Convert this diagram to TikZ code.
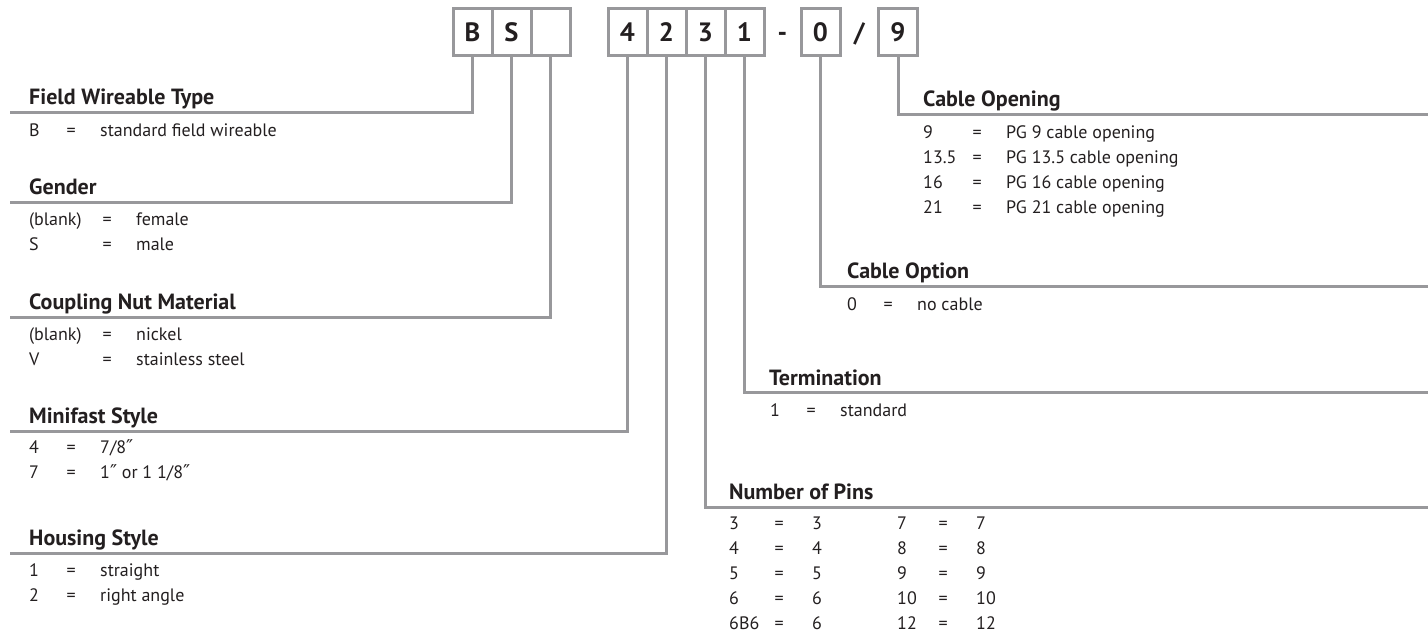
\documentclass[tikz,border=0pt]{standalone}
\usepackage{fontspec}
\setmainfont{PT Sans}
\newfontfamily\primefont{DejaVu Sans}
\usepackage{array}
\usetikzlibrary{positioning}
\definecolor{leadgray}{RGB}{152,152,155}
\definecolor{inkblack}{RGB}{35,31,32}

\begin{document}
\begin{tikzpicture}[
        x=1pt, y=-1pt,
        digit/.style={rectangle, draw=leadgray, line width=3pt, minimum width=39pt, minimum height=47pt, inner sep=0pt, outer sep=0pt, text height=18.6pt, text depth=0pt, font=\fontsize{26.5}{26}\selectfont\bfseries, text=inkblack},
        spacer/.style={rectangle, minimum width=37pt, minimum height=47pt, inner sep=0pt, outer sep=0pt, text height=18.6pt, text depth=0pt, font=\fontsize{26.5}{26}\selectfont\bfseries, text=inkblack},
        heading/.style={anchor=base west, inner sep=0pt, font=\fontsize{22}{22}\selectfont\bfseries, text=inkblack},
        entries/.style={anchor=base west, inner sep=0pt, font=\fontsize{18}{25}\selectfont, text=inkblack},
        leader/.style={draw=leadgray, line width=3pt}
    ]
    \useasboundingbox (0,0) rectangle (1428,636);

    % Code boxes
    \node[digit] (bB) at (472.5,32) {B};
    \node[digit, right=0pt of bB] (bS) {S};
    \node[digit, right=0pt of bS] (bV) {};
    \node[digit, right=38pt of bV] (b4) {4};
    \node[digit, right=0pt of b4] (b2) {2};
    \node[digit, right=0pt of b2] (b3) {3};
    \node[digit, right=0pt of b3] (b1) {1};
    \node[spacer, right=0pt of b1] (dash) {-};
    \node[digit, right=0pt of dash] (b0) {0};
    \node[spacer, right=0pt of b0, minimum width=38.5pt] (slash) {/};
    \node[digit, right=0pt of slash] (b9) {9};

    % Left column
    \node[heading] (hType) at (29,105) {Field Wireable Type};
    \node[entries] (lType) at (29,136.5) {\begin{tabular}[t]{@{}p{37.5pt}@{}p{33.5pt}@{}l@{}}
        B & = & standard field wireable\end{tabular}};
    \node[heading] (hGender) at (29,195) {Gender};
    \node[entries] (lGender) at (29,225.5) {\begin{tabular}[t]{@{}p{73.5pt}@{}p{33.5pt}@{}l@{}}
        (blank) & = & female\\ S & = & male\end{tabular}};
    \node[heading] (hNut) at (29,310) {Coupling Nut Material};
    \node[entries] (lNut) at (29,340.5) {\begin{tabular}[t]{@{}p{73.5pt}@{}p{33.5pt}@{}l@{}}
        (blank) & = & nickel\\ V & = & stainless steel\end{tabular}};
    \node[heading] (hMini) at (29,424) {Minifast Style};
    \node[entries] (lMini) at (29,453.5) {\begin{tabular}[t]{@{}p{37.5pt}@{}p{33.5pt}@{}l@{}}
        4 & = & 7/8{\primefont\fontsize{19}{25}\selectfont ″}\\ 7 & = & 1{\primefont\fontsize{19}{25}\selectfont ″} or 1 1/8{\primefont\fontsize{19}{25}\selectfont ″}\end{tabular}};
    \node[heading] (hHousing) at (29,545) {Housing Style};
    \node[entries] (lHousing) at (29,576.5) {\begin{tabular}[t]{@{}p{37.5pt}@{}p{33.5pt}@{}l@{}}
        1 & = & straight\\ 2 & = & right angle\end{tabular}};

    % Right column
    \node[heading] (hOpening) at (923,107) {Cable Opening};
    \node[entries] (lOpening) at (923,138.5) {\begin{tabular}[t]{@{}p{49.5pt}@{}p{33.5pt}@{}l@{}}
        9 & = & PG 9 cable opening\\ 13.5 & = & PG 13.5 cable opening\\
        16 & = & PG 16 cable opening\\ 21 & = & PG 21 cable opening\end{tabular}};
    \node[heading] (hOption) at (847,279) {Cable Option};
    \node[entries] (lOption) at (847,310.5) {\begin{tabular}[t]{@{}p{36.5pt}@{}p{33.5pt}@{}l@{}}
        0 & = & no cable\end{tabular}};
    \node[heading] (hTerm) at (769,385) {Termination};
    \node[entries] (lTerm) at (770,416.5) {\begin{tabular}[t]{@{}p{36.5pt}@{}p{33.5pt}@{}l@{}}
        1 & = & standard\end{tabular}};
    \node[heading] (hPins) at (729,499) {Number of Pins};
    \node[entries] (lPinsA) at (729,529.5) {\begin{tabular}[t]{@{}p{45.5pt}@{}p{37.5pt}@{}l@{}}
        3 & = & 3\\ 4 & = & 4\\ 5 & = & 5\\ 6 & = & 6\\ 6B6 & = & 6\end{tabular}};
    \node[entries] (lPinsB) at (897,529.5) {\begin{tabular}[t]{@{}p{41.5pt}@{}p{37.5pt}@{}l@{}}
        7 & = & 7\\ 8 & = & 8\\ 9 & = & 9\\ 10 & = & 10\\ 12 & = & 12\end{tabular}};

    % Line ends
    \coordinate (eType) at (10,113);
    \coordinate (eGender) at (10,203);
    \coordinate (eNut) at (10,318);
    \coordinate (eMini) at (10,431);
    \coordinate (eHousing) at (10,553);
    \coordinate (eOpening) at (1428,115);
    \coordinate (eOption) at (1428,287);
    \coordinate (eTerm) at (1428,393);
    \coordinate (ePins) at (1428,507);

    % Leaders
    \draw[leader] (bB.south) |- (eType);
    \draw[leader] (bS.south) |- (eGender);
    \draw[leader] (bV.south) |- (eNut);
    \draw[leader] (b4.south) |- (eMini);
    \draw[leader] (b2.south) |- (eHousing);
    \draw[leader] (b9.south) |- (eOpening);
    \draw[leader] (b0.south) |- (eOption);
    \draw[leader] (b1.south) |- (eTerm);
    \draw[leader] (b3.south) |- (ePins);

\end{tikzpicture}
\end{document}
